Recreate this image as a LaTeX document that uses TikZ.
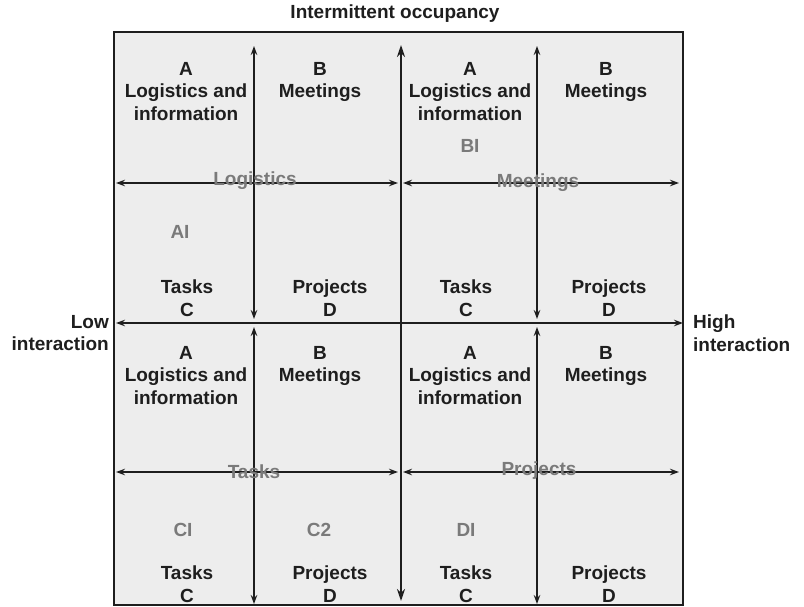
\documentclass[tikz,border=0pt]{standalone}
\usepackage{fontspec}
\setmainfont{Liberation Sans}
\usetikzlibrary{arrows.meta,positioning}

\definecolor{ink}{HTML}{1E1E1E}
\definecolor{boxfill}{HTML}{EDEDED}
\definecolor{axisgray}{HTML}{7A7A7A}

\begin{document}
\begin{tikzpicture}[x=1pt,y=-1pt,
	font=\bfseries\fontsize{19}{22.5}\selectfont,
	every node/.style={inner sep=0pt, text=ink},
	cell/.style={align=center, anchor=north},
	axislbl/.style={text=axisgray},
	arr/.style={{Stealth[length=9pt,width=6.5pt]}-{Stealth[length=9pt,width=6.5pt]}, line width=1.3pt, draw=ink},
	bigarr/.style={{Stealth[length=12pt,width=8pt]}-{Stealth[length=12pt,width=8pt]}, line width=1.8pt, draw=ink}]
		\useasboundingbox (0,0) rectangle (804,607);
		\draw[ink, fill=boxfill, line width=1.5pt] (114,32) rectangle (683,605);

		% end points of the arrows
		\coordinate (vTop) at (401,45);
		\coordinate (vBot) at (401,601);
		\coordinate (hL) at (116,323);
		\coordinate (hR) at (683,323);
		\coordinate (v1a) at (254,46);  \coordinate (v1b) at (254,319);
		\coordinate (v2a) at (537,46);  \coordinate (v2b) at (537,319);
		\coordinate (v3a) at (254,327); \coordinate (v3b) at (254,604);
		\coordinate (v4a) at (537,327); \coordinate (v4b) at (537,604);
		\coordinate (h1a) at (116,183); \coordinate (h1b) at (398,183);
		\coordinate (h2a) at (403,183); \coordinate (h2b) at (679,183);
		\coordinate (h3a) at (116,472); \coordinate (h3b) at (398,472);
		\coordinate (h4a) at (403,472); \coordinate (h4b) at (679,472);

		\draw[arr] (v1a) -- (v1b);
		\draw[arr] (v2a) -- (v2b);
		\draw[arr] (v3a) -- (v3b);
		\draw[arr] (v4a) -- (v4b);
		\draw[arr] (h1a) -- (h1b);
		\draw[arr] (h2a) -- (h2b);
		\draw[arr] (h3a) -- (h3b);
		\draw[arr] (h4a) -- (h4b);
		\draw[bigarr] (vTop) -- (vBot);
		\draw[arr, line width=1.5pt] (hL) -- (hR);

		% outer labels
		\node (occ) at (395,14) {Intermittent occupancy};
		\node (low) [align=right, anchor=east, left=7pt of hL, yshift=-10pt] {Low\\interaction};
		\node (high) [align=left, anchor=west, right=10pt of hR, yshift=-10pt] {High\\interaction};

		% top left quadrant
		\node (logA1) [cell] at (186,62) {A\\Logistics and\\information};
		\node (meetB1) [cell] at (320,62) {B\\Meetings};
		\node (taskC1) [cell] at (187,280) {Tasks\\C};
		\node (projD1) [cell] at (330,280) {Projects\\D};
		% top right quadrant
		\node (logA2) [cell] at (470,62) {A\\Logistics and\\information};
		\node (meetB2) [cell] at (606,62) {B\\Meetings};
		\node (taskC2) [cell] at (466,280) {Tasks\\C};
		\node (projD2) [cell] at (609,280) {Projects\\D};
		% bottom left quadrant
		\node (logA3) [cell] at (186,346) {A\\Logistics and\\information};
		\node (meetB3) [cell] at (320,346) {B\\Meetings};
		\node (taskC3) [cell] at (187,566) {Tasks\\C};
		\node (projD3) [cell] at (330,566) {Projects\\D};
		% bottom right quadrant
		\node (logA4) [cell] at (470,346) {A\\Logistics and\\information};
		\node (meetB4) [cell] at (606,346) {B\\Meetings};
		\node (taskC4) [cell] at (466,566) {Tasks\\C};
		\node (projD4) [cell] at (609,566) {Projects\\D};

		% grey axis names and sample points
		\node (logis) [axislbl] at (255,181) {Logistics};
		\node (meet) [axislbl] at (538,183) {Meetings};
		\node (tasks) [axislbl] at (254,472) {Tasks};
		\node (proj) [axislbl] at (539,471) {Projects};
		\node (ai) [axislbl] at (180,232) {AI};
		\node (bi) [axislbl] at (470,146) {BI};
		\node (ci) [axislbl] at (183,530) {CI};
		\node (c2) [axislbl] at (319,530) {C2};
		\node (di) [axislbl] at (466,530) {DI};
\end{tikzpicture}
\end{document}
